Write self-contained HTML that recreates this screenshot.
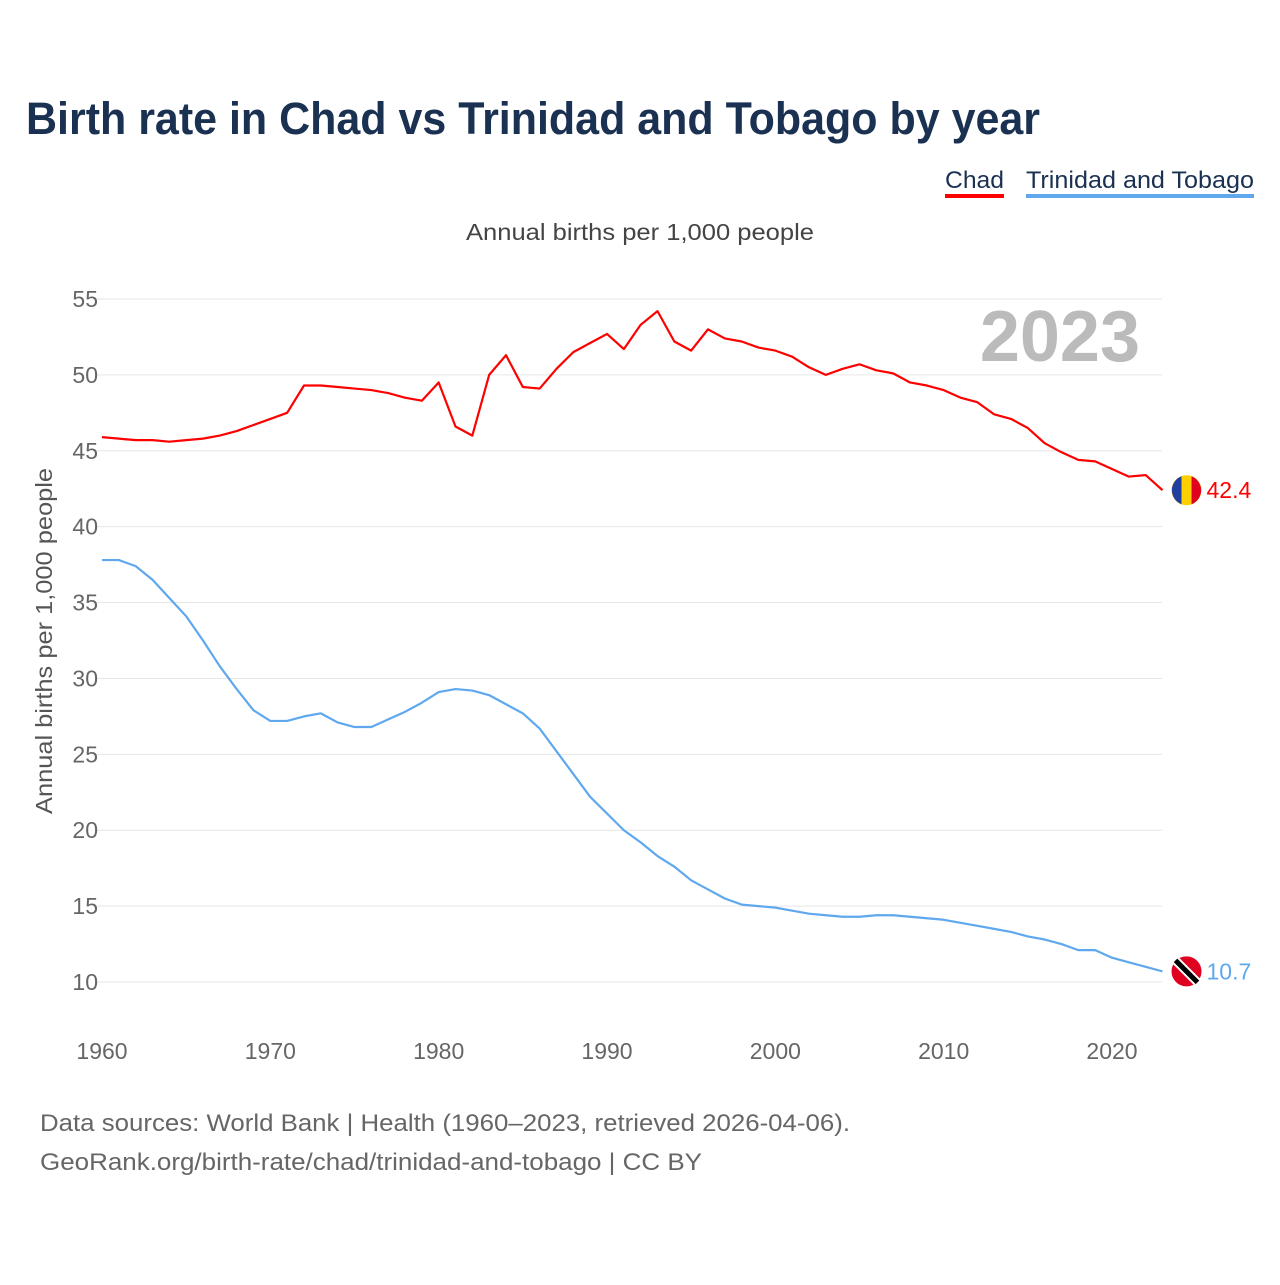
<!DOCTYPE html>
<html><head><meta charset="utf-8">
<style>
body{margin:0;background:#fff;font-family:"Liberation Sans",sans-serif;}
svg text{font-family:"Liberation Sans",sans-serif;}
</style></head>
<body>
<svg width="1280" height="1280" viewBox="0 0 1280 1280">
<text x="26" y="134" font-size="45" font-weight="bold" fill="#1a3152" textLength="1014" lengthAdjust="spacingAndGlyphs">Birth rate in Chad vs Trinidad and Tobago by year</text>
<g>
<text x="945" y="188" font-size="24" fill="#1a3152" textLength="59" lengthAdjust="spacingAndGlyphs">Chad</text>
<rect x="945" y="194" width="59" height="4" fill="#ff0000"/></g>
<g>
<text x="1026" y="188" font-size="24" fill="#1a3152" textLength="228" lengthAdjust="spacingAndGlyphs">Trinidad and Tobago</text>
<rect x="1026" y="194" width="228" height="4" fill="#5fa8ee"/></g>
<text x="466" y="240" font-size="23" fill="#444" textLength="348" lengthAdjust="spacingAndGlyphs">Annual births per 1,000 people</text>
<text x="1140" y="361" font-size="72" font-weight="bold" fill="#bbb" text-anchor="end">2023</text>
<text transform="translate(52,641) rotate(-90)" font-size="23" fill="#555" text-anchor="middle" textLength="346" lengthAdjust="spacingAndGlyphs">Annual births per 1,000 people</text>
<g id="grid"></g><g id="xt"></g><g id="lines"></g>
<text x="40" y="1131" font-size="24" fill="#666" textLength="810" lengthAdjust="spacingAndGlyphs">Data sources: World Bank | Health (1960–2023, retrieved 2026-04-06).</text>
<text x="40" y="1170" font-size="24" fill="#666" textLength="662" lengthAdjust="spacingAndGlyphs">GeoRank.org/birth-rate/chad/trinidad-and-tobago | CC BY</text>
</svg>
<script>
const years=[];for(let y=1960;y<=2023;y++)years.push(y);
const chad=[45.9,45.8,45.7,45.7,45.6,45.7,45.8,46.0,46.3,46.7,47.1,47.5,49.3,49.3,49.2,49.1,49.0,48.8,48.5,48.3,49.5,46.6,46.0,50.0,51.3,49.2,49.1,50.4,51.5,52.1,52.7,51.7,53.3,54.2,52.2,51.6,53.0,52.4,52.2,51.8,51.6,51.2,50.5,50.0,50.4,50.7,50.3,50.1,49.5,49.3,49.0,48.5,48.2,47.4,47.1,46.5,45.5,44.9,44.4,44.3,43.8,43.3,43.4,42.4];
const tt=[37.8,37.8,37.4,36.5,35.3,34.1,32.5,30.8,29.3,27.9,27.2,27.2,27.5,27.7,27.1,26.8,26.8,27.3,27.8,28.4,29.1,29.3,29.2,28.9,28.3,27.7,26.7,25.2,23.7,22.2,21.1,20.0,19.2,18.3,17.6,16.7,16.1,15.5,15.1,15.0,14.9,14.7,14.5,14.4,14.3,14.3,14.4,14.4,14.3,14.2,14.1,13.9,13.7,13.5,13.3,13.0,12.8,12.5,12.1,12.1,11.6,11.3,11.0,10.7];
const yTicks=[10,15,20,25,30,35,40,45,50,55];
const xTicks=[1960,1970,1980,1990,2000,2010,2020];
const X=y=>102+(y-1960)*(1010/60);
const Y=v=>982-(v-10)*(683/45);
const NS='http://www.w3.org/2000/svg';
function mk(t,a,p){const e=document.createElementNS(NS,t);for(const k in a)e.setAttribute(k,a[k]);p.appendChild(e);return e;}
const g=document.getElementById('grid');
yTicks.forEach(v=>{
 const l=mk('line',{x1:95,x2:1162,y1:Y(v),y2:Y(v),stroke:'#e6e6e6','stroke-width':1},g);
 
 
 const t=mk('text',{x:98,y:Y(v)+8,'font-size':23,fill:'#666','text-anchor':'end'},g);t.textContent=v;
 
 
});
const xt=document.getElementById('xt');
xTicks.forEach(v=>{
 const t=mk('text',{x:X(v),y:1059,'font-size':23,fill:'#666','text-anchor':'middle'},xt);t.textContent=v;
 
 
});
const L=document.getElementById('lines');
function series(d,c,name){
 const p=mk('polyline',{points:d.map((v,i)=>X(years[i])+','+Y(v)).join(' '),fill:'none',stroke:c,'stroke-width':2.2,'stroke-linejoin':'round'},L);
 
 
 const last=d[d.length-1],cx=X(years[years.length-1])+24,cy=Y(last);
 const c1=mk('circle',{cx:cx,cy:cy,r:15,fill:name==='chad'?'#ffd000':'#e00020'},L);
 
 
 if(name==='chad'){mk('path',{d:`M${cx-5},${cy-14} A15,15 0 0 0 ${cx-5},${cy+14} Z`,fill:'#1f3fa0'},L);mk('path',{d:`M${cx+5},${cy-14} A15,15 0 0 1 ${cx+5},${cy+14} Z`,fill:'#e00020'},L);}
 else{mk('line',{x1:cx-11,y1:cy-11,x2:cx+11,y2:cy+11,stroke:'#fff','stroke-width':9},L);mk('line',{x1:cx-11,y1:cy-11,x2:cx+11,y2:cy+11,stroke:'#000','stroke-width':5},L);}
 const t=mk('text',{x:cx+20,y:cy+8,'font-size':23,fill:c},L);t.textContent=last;
 
 
}
series(chad,'#ff0000','chad');
series(tt,'#5fa8ee','trinidad');
</script>
</body></html>
